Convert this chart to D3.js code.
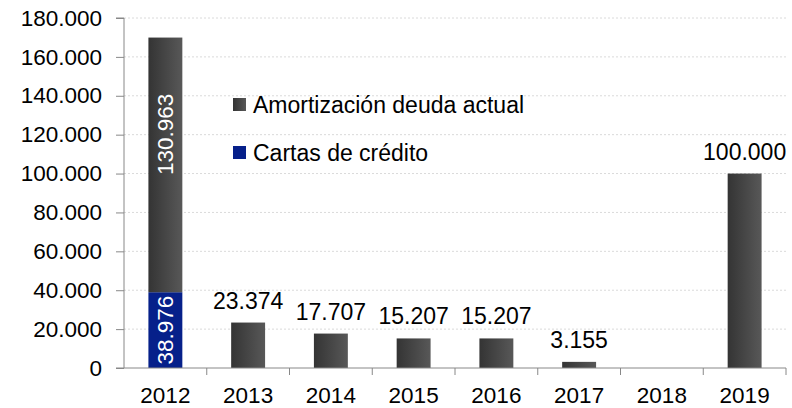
<!DOCTYPE html>
<html>
<head>
<meta charset="utf-8">
<script src="https://cdn.jsdelivr.net/npm/d3@7"></script>
<style>
  body { margin: 0; background: #fff; }
  svg { font-family: "Liberation Sans", Arial, sans-serif; }
</style>
</head>
<body>
<div id="chart"></div>
<script>
const years = ["2012", "2013", "2014", "2015", "2016", "2017", "2018", "2019"];
const cartas = [38976, 0, 0, 0, 0, 0, 0, 0];
const amortizacion = [130963, 23374, 17707, 15207, 15207, 3155, 0, 100000];
const yTicks = [0, 20000, 40000, 60000, 80000, 100000, 120000, 140000, 160000, 180000];
const seriesNames = ["Amortización deuda actual", "Cartas de crédito"];

const width = 792;
const height = 408;
const margin = { top: 18, right: 6, bottom: 40, left: 124 };
const fontFam = "Liberation Sans, Arial, sans-serif";

const fmt = v => v === 0 ? "0" : d3.format(",")(v).replace(/,/g, ".");

const svg = d3.select("#chart")
    .append("svg")
    .attr("width", width)
    .attr("height", height)
    .attr("font-family", fontFam);

// Degradado de las barras grises
const defs = svg.append("defs");
const grad = defs.append("linearGradient").attr("id", "grayGrad")
    .attr("x1", "0%").attr("x2", "100%").attr("y1", "0%").attr("y2", "0%");
grad.append("stop").attr("offset", "0%").attr("stop-color", "#343434");
grad.append("stop").attr("offset", "100%").attr("stop-color", "#585858");

const x = d3.scaleBand()
    .domain(years)
    .range([margin.left, width - margin.right])
    .paddingInner(0.59)
    .paddingOuter(0.295);

const y = d3.scaleLinear()
    .domain([0, 180000])
    .range([height - margin.bottom, margin.top]);

// Líneas de cuadrícula punteadas
svg.append("g")
    .selectAll("line")
    .data(yTicks.filter(d => d > 0))
    .enter()
    .append("line")
    .attr("x1", margin.left)
    .attr("x2", width - margin.right)
    .attr("y1", d => y(d))
    .attr("y2", d => y(d))
    .attr("stroke", "#dadada")
    .attr("stroke-width", 1)
    .attr("stroke-dasharray", "2,2");

// Barras apiladas
const stackData = years.map((yr, i) => ({ year: yr, cartas: cartas[i], amort: amortizacion[i] }));

svg.append("g")
    .selectAll("rect")
    .data(stackData.filter(d => d.cartas > 0))
    .enter()
    .append("rect")
    .attr("x", d => x(d.year))
    .attr("width", x.bandwidth())
    .attr("y", d => y(d.cartas))
    .attr("height", d => y(0) - y(d.cartas))
    .attr("fill", "#06208a");

svg.append("g")
    .selectAll("rect")
    .data(stackData.filter(d => d.amort > 0))
    .enter()
    .append("rect")
    .attr("x", d => x(d.year))
    .attr("width", x.bandwidth())
    .attr("y", d => y(d.cartas + d.amort))
    .attr("height", d => y(d.cartas) - y(d.cartas + d.amort))
    .attr("fill", "url(#grayGrad)");

// Ejes
const yAxis = d3.axisLeft(y).tickValues(yTicks).tickFormat(fmt).tickSize(8).tickPadding(14);
const gy = svg.append("g")
    .attr("transform", `translate(${margin.left},0)`)
    .call(yAxis);
gy.select(".domain").attr("stroke", "#888").attr("d", `M-8,${y(180000)}H0V${y(0)}H-8`);
gy.selectAll(".tick line").attr("stroke", "#888");
gy.selectAll(".tick text").attr("font-size", "22.5px").attr("fill", "#000")
    .attr("font-family", fontFam);

const gx = svg.append("g")
    .attr("transform", `translate(0,${y(0)})`);
gx.append("line")
    .attr("x1", margin.left).attr("x2", width - margin.right)
    .attr("y1", 0).attr("y2", 0)
    .attr("stroke", "#888");
const step = x.step();
gx.selectAll("line.tk")
    .data(years)
    .enter()
    .append("line")
    .attr("class", "tk")
    .attr("x1", d => x(d) + x.bandwidth() / 2 + step / 2)
    .attr("x2", d => x(d) + x.bandwidth() / 2 + step / 2)
    .attr("y1", 0).attr("y2", 7)
    .attr("stroke", "#888");
gx.selectAll("text")
    .data(years)
    .enter()
    .append("text")
    .attr("x", d => x(d) + x.bandwidth() / 2)
    .attr("y", 35)
    .attr("text-anchor", "middle")
    .attr("font-size", "22.5px")
    .text(d => d);

// Etiquetas sobre las barras
svg.append("g")
    .selectAll("text")
    .data(stackData.slice(1).filter(d => d.amort > 0))
    .enter()
    .append("text")
    .attr("x", d => x(d.year) + x.bandwidth() / 2)
    .attr("y", d => y(d.amort) - 14)
    .attr("text-anchor", "middle")
    .attr("font-size", "23px")
    .text(d => fmt(d.amort));

// Etiquetas verticales en 2012
const first = stackData[0];
const cx = x(first.year) + x.bandwidth() / 2;
[
    { v: first.cartas, mid: first.cartas / 2 },
    { v: first.amort, mid: first.cartas + first.amort * 0.62 }
].forEach(s => {
    svg.append("text")
        .attr("transform", `translate(${cx + 8},${y(s.mid)}) rotate(-90)`)
        .attr("text-anchor", "middle")
        .attr("font-size", "22.5px")
        .attr("fill", "#fff")
        .text(fmt(s.v));
});

// Leyenda
const legend = svg.append("g").attr("transform", "translate(233,98)");
const legColors = ["url(#grayGrad)", "#06208a"];
seriesNames.forEach((name, i) => {
    const g = legend.append("g").attr("transform", `translate(0,${i * 48})`);
    g.append("rect").attr("width", 13).attr("height", 13).attr("fill", legColors[i]);
    g.append("text").attr("x", 20).attr("y", 15).attr("font-size", "23px").text(name);
});
</script>
</body>
</html>
